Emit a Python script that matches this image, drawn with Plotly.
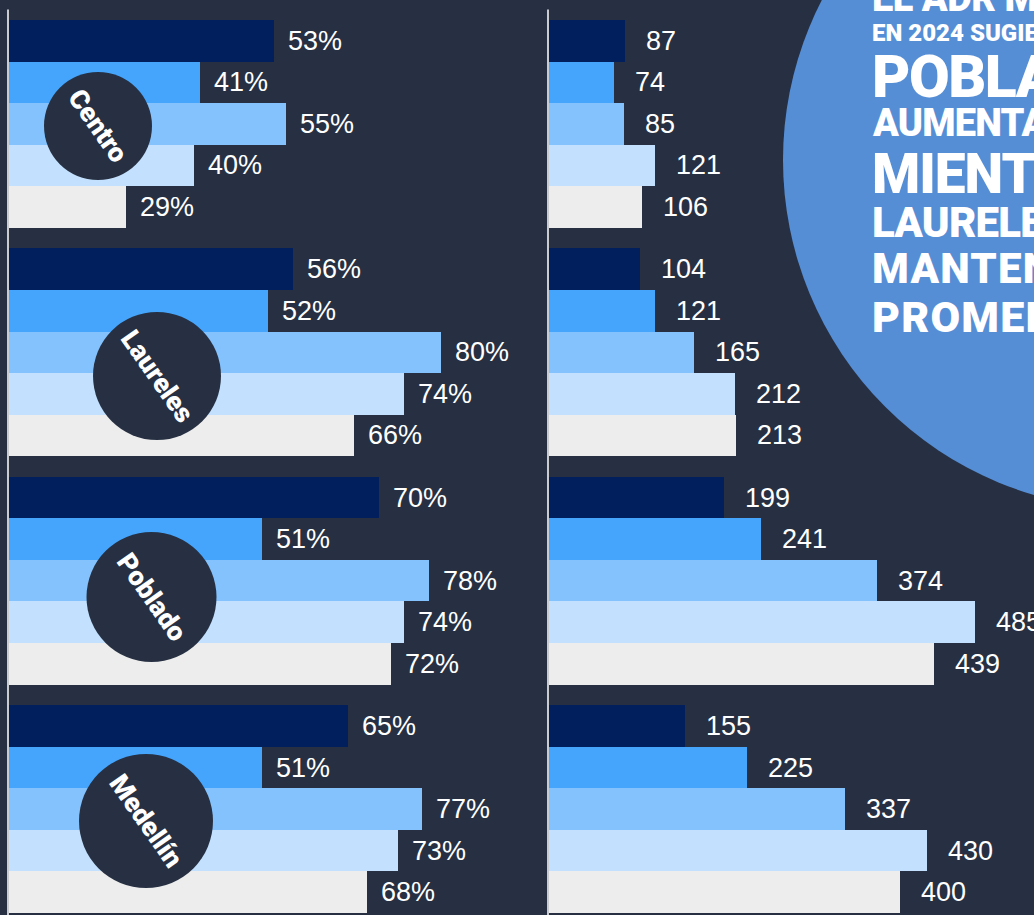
import plotly.graph_objects as go

# ---------------- data ----------------
zones = ["Centro", "Laureles", "Poblado", "Medellín"]
series_names = ["Serie 1", "Serie 2", "Serie 3", "Serie 4", "Serie 5"]

occ_s1 = [53, 56, 70, 65]
occ_s2 = [41, 52, 51, 51]
occ_s3 = [55, 80, 78, 77]
occ_s4 = [40, 74, 74, 73]
occ_s5 = [29, 66, 72, 68]

adr_s1 = [87, 104, 199, 155]
adr_s2 = [74, 121, 241, 225]
adr_s3 = [85, 165, 374, 337]
adr_s4 = [121, 212, 485, 430]
adr_s5 = [106, 213, 439, 400]

headline = ["EL ADR MEDIO", "EN 2024 SUGIERE QUE", "POBLADO", "AUMENTA SU",
            "MIENTRAS", "LAURELES", "MANTENDRÍA SU", "PROMEDIO"]

# ---------------- style ----------------
W, H = 1034, 915
BG = "#263042"
colors = ["#011f5c", "#45a5fd", "#84c2fe", "#c3e1fe", "#ededed"]
BIG = "#568ed6"

occ = [occ_s1, occ_s2, occ_s3, occ_s4, occ_s5]
adr = [adr_s1, adr_s2, adr_s3, adr_s4, adr_s5]

GROUP = 5.5  # group pitch in bar units


def pos(g, i):
    return g * GROUP + i


fig = go.Figure()
for i, name in enumerate(series_names):
    ys = [pos(g, i) for g in range(len(zones))]
    fig.add_trace(go.Bar(x=occ[i], y=ys, orientation="h", width=1.0,
                         marker=dict(color=colors[i], line=dict(width=0)),
                         name=name, xaxis="x", yaxis="y", showlegend=False,
                         hoverinfo="x"))
    fig.add_trace(go.Bar(x=adr[i], y=ys, orientation="h", width=1.0,
                         marker=dict(color=colors[i], line=dict(width=0)),
                         name=name, xaxis="x2", yaxis="y", showlegend=False,
                         hoverinfo="x"))

annotations = []
lab_font = dict(family="Liberation Sans, Arial, sans-serif", size=27, color="#ffffff")
for i in range(5):
    for g in range(len(zones)):
        annotations.append(dict(x=occ[i][g], y=pos(g, i), xref="x", yref="y",
                                text=f"{occ[i][g]}%", showarrow=False,
                                xanchor="left", yanchor="middle", xshift=12,
                                font=lab_font))
        annotations.append(dict(x=adr[i][g], y=pos(g, i), xref="x2", yref="y",
                                text=f"{adr[i][g]}", showarrow=False,
                                xanchor="left", yanchor="middle", xshift=19,
                                font=lab_font))


def px(x):
    return x / W


def py(y):
    return 1 - y / H


shapes = []
# panel axis lines
for xl in (8, 548):
    shapes.append(dict(type="line", xref="paper", yref="paper",
                       x0=px(xl), x1=px(xl), y0=py(9.5), y1=0,
                       line=dict(color="#c9cbcf", width=2), layer="above"))

# zone circles
circles = [(98, 126, 54), (157, 376, 64), (151.5, 597, 65), (146, 821, 67)]
circ_font = dict(family="Roboto, Lato, sans-serif", size=27, color="#ffffff", weight=900)
for (cx, cy, r), z in zip(circles, zones):
    shapes.append(dict(type="circle", xref="paper", yref="paper",
                       x0=px(cx - r), x1=px(cx + r), y0=py(cy + r), y1=py(cy - r),
                       fillcolor=BG, line=dict(width=0), layer="above"))
    annotations.append(dict(x=px(cx), y=py(cy), xref="paper", yref="paper",
                            text=z, showarrow=False, textangle=55,
                            xanchor="center", yanchor="middle", font=circ_font))

# big headline circle
bcx, bcy, br = 1132, 160, 349
shapes.append(dict(type="circle", xref="paper", yref="paper",
                   x0=px(bcx - br), x1=px(bcx + br), y0=py(bcy + br), y1=py(bcy - br),
                   fillcolor=BIG, line=dict(width=0), layer="above"))

head_centers = [-2, 33.5, 76, 123.5, 173.5, 222.5, 268, 317]
head_sizes = [38, 24, 59, 38, 55, 42, 42, 43]
head_spacing = [-0.5, 0, -1.5, -0.8, -1, -0.8, 1.2, 1.2]
for txt, yc, fs, sp in zip(headline, head_centers, head_sizes, head_spacing):
    annotations.append(dict(x=px(870), y=py(yc), xref="paper", yref="paper",
                            text=f'<span style="letter-spacing:{sp}px">{txt}</span>',
                            showarrow=False, xanchor="left", yanchor="middle",
                            font=dict(family="Roboto, Lato, sans-serif", size=fs,
                                      color="#ffffff", weight=900)))

fig.update_layout(
    width=W, height=H,
    margin=dict(l=0, r=0, t=0, b=0),
    paper_bgcolor=BG, plot_bgcolor=BG,
    barmode="overlay", bargap=0,
    xaxis=dict(domain=[px(9), px(546)], range=[10.13, 97.0], visible=False, fixedrange=True),
    xaxis2=dict(domain=[px(549), 1], range=[0, 552.4], visible=False, anchor="y", fixedrange=True),
    yaxis=dict(range=[21.048, -0.9815], visible=False, domain=[0, 1], fixedrange=True),
    shapes=shapes,
    annotations=annotations,
)

fig.write_html("out.html", config={"displayModeBar": False},
               post_script="document.body.style.margin='0';document.body.style.overflow='hidden';")
